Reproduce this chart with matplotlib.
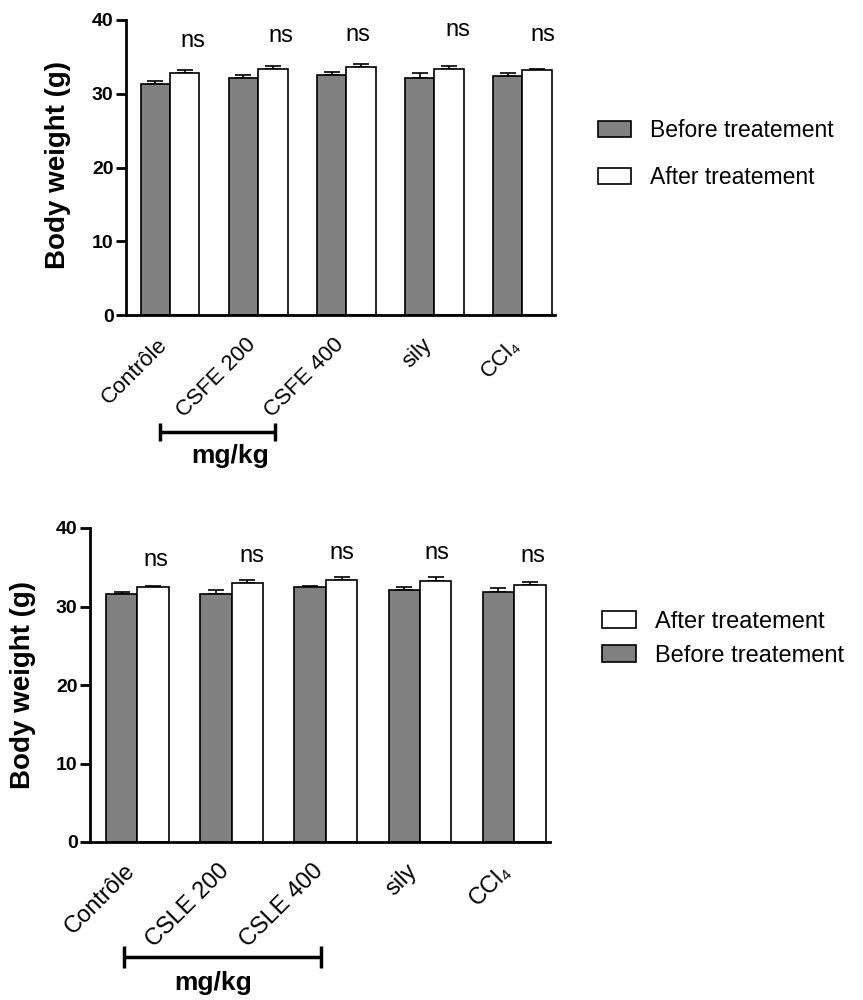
import numpy as np
import matplotlib
matplotlib.use("Agg")
import matplotlib.pyplot as plt
from matplotlib.patches import Patch
from matplotlib.lines import Line2D
from matplotlib.transforms import ScaledTranslation

plt.rcParams['font.family'] = ['Liberation Sans', 'DejaVu Sans']

# data
groups_fe = ["Contrôle", "CSFE 200", "CSFE 400", "sily", "CCl₄"]
before_fe = [31.3, 32.2, 32.6, 32.2, 32.4]
before_fe_sem = [0.4, 0.4, 0.4, 0.6, 0.4]
after_fe = [32.8, 33.4, 33.6, 33.4, 33.2]
after_fe_sem = [0.4, 0.4, 0.4, 0.4, 0.15]

groups_le = ["Contrôle", "CSLE 200", "CSLE 400", "sily", "CCl₄"]
before_le = [31.6, 31.6, 32.5, 32.1, 31.9]
before_le_sem = [0.2, 0.5, 0.15, 0.4, 0.4]
after_le = [32.5, 32.95, 33.4, 33.2, 32.7]
after_le_sem = [0.15, 0.4, 0.4, 0.6, 0.45]

signif = ["ns", "ns", "ns", "ns", "ns"]
yticks = [0, 10, 20, 30, 40]

W, H = 863, 1000
fig = plt.figure(figsize=(W / 100, H / 100), dpi=100)


def px(x, y):
    return x / W, 1 - y / H


def panel(ax, groups, before, bsem, after, asem, ns_dx, ns_y, xlim, lbl):
    x = np.arange(len(groups))
    w = 0.334
    ax.bar(x - w / 2, before, w, color="#808080", edgecolor="black", linewidth=1.2, zorder=2)
    ax.bar(x + w / 2, after, w, color="white", edgecolor="black", linewidth=1.2, zorder=2)
    ax.errorbar(x - w / 2, before, yerr=[np.zeros(len(x)), bsem], fmt="none",
                ecolor="black", elinewidth=1.2, capsize=6, capthick=1.2, zorder=1)
    ax.errorbar(x + w / 2, after, yerr=[np.zeros(len(x)), asem], fmt="none",
                ecolor="black", elinewidth=1.2, capsize=6, capthick=1.2, zorder=1)
    for i, s in enumerate(signif):
        ax.text(x[i] + ns_dx[i], ns_y[i], s, ha="center", va="center", fontsize=17)
    ax.set_xlim(*xlim)
    ax.set_ylim(0, 40)
    ax.set_yticks(yticks)
    ax.set_yticklabels([str(t) for t in yticks], fontweight="bold", fontsize=14)
    ax.spines["top"].set_visible(False)
    ax.spines["right"].set_visible(False)
    ax.spines["left"].set_linewidth(2)
    ax.spines["bottom"].set_linewidth(2)
    ax.tick_params(axis="y", width=2, length=7, pad=2)
    ax.set_xticks(x)
    ax.set_xticklabels(groups, rotation=45, ha="right", va="top",
                       rotation_mode="anchor", fontsize=lbl[2])
    ax.tick_params(axis="x", length=0, pad=lbl[1])
    for t in ax.get_xticklabels():
        t.set_transform(t.get_transform() + ScaledTranslation(lbl[0] / 100, 0, fig.dpi_scale_trans))
    ax.set_ylabel("Body weight (g)", fontsize=20, fontweight="bold")


# top panel
l, b = px(126, 315)
ax1 = fig.add_axes([l, b, (555 - 126) / W, 295 / H])
panel(ax1, groups_fe, before_fe, before_fe_sem, after_fe, after_fe_sem,
      [0.26, 0.26, 0.13, 0.27, 0.23], [37.2, 37.8, 38.0, 38.6, 38.0], (-0.5, 4.37), (-13, 14, 16))
ax1.yaxis.set_label_coords(-0.128, 0.51)

# bottom panel
l, b = px(90, 842)
ax2 = fig.add_axes([l, b, (550 - 90) / W, 314 / H])
panel(ax2, groups_le, before_le, before_le_sem, after_le, after_le_sem,
      [0.2, 0.21, 0.17, 0.18, 0.2], [35.9, 36.4, 36.8, 36.8, 36.4], (-0.504, 4.38), (-14, 13, 17))
ax2.yaxis.set_label_coords(-0.117, 0.5)


def bracket(x0, x1, y, cap):
    fx0, fy = px(x0, y)
    fx1, _ = px(x1, y)
    _, fyt = px(x0, y - cap)
    _, fyb = px(x0, y + cap)
    kw = dict(color="black", linewidth=2.5, solid_capstyle="butt")
    fig.add_artist(Line2D([fx0, fx1], [fy, fy], **kw))
    fig.add_artist(Line2D([fx0, fx0], [fyt, fyb], **kw))
    fig.add_artist(Line2D([fx1, fx1], [fyt, fyb], **kw))


bracket(160, 275, 432, 9)
fig.text(*px(230, 456), "mg/kg", ha="center", va="center", fontsize=19, fontweight="bold")
bracket(124, 321, 957, 11)
fig.text(*px(213, 983), "mg/kg", ha="center", va="center", fontsize=19, fontweight="bold")

# legends
h_before = Patch(facecolor="#808080", edgecolor="black", linewidth=1.2)
h_after = Patch(facecolor="white", edgecolor="black", linewidth=1.2)
leg_kw = dict(loc="upper left", frameon=False, borderpad=0, borderaxespad=0,
              handlelength=1.45, handleheight=0.7, handletextpad=0.8)
fig.legend([h_before, h_after], ["Before treatement", "After treatement"],
           bbox_to_anchor=px(598, 119), labelspacing=1.05, fontsize=16.5, **leg_kw)
fig.legend([h_after, h_before], ["After treatement", "Before treatement"],
           bbox_to_anchor=px(602, 611), labelspacing=0.5, fontsize=17, **leg_kw)

fig.savefig("out.png", dpi=100)
